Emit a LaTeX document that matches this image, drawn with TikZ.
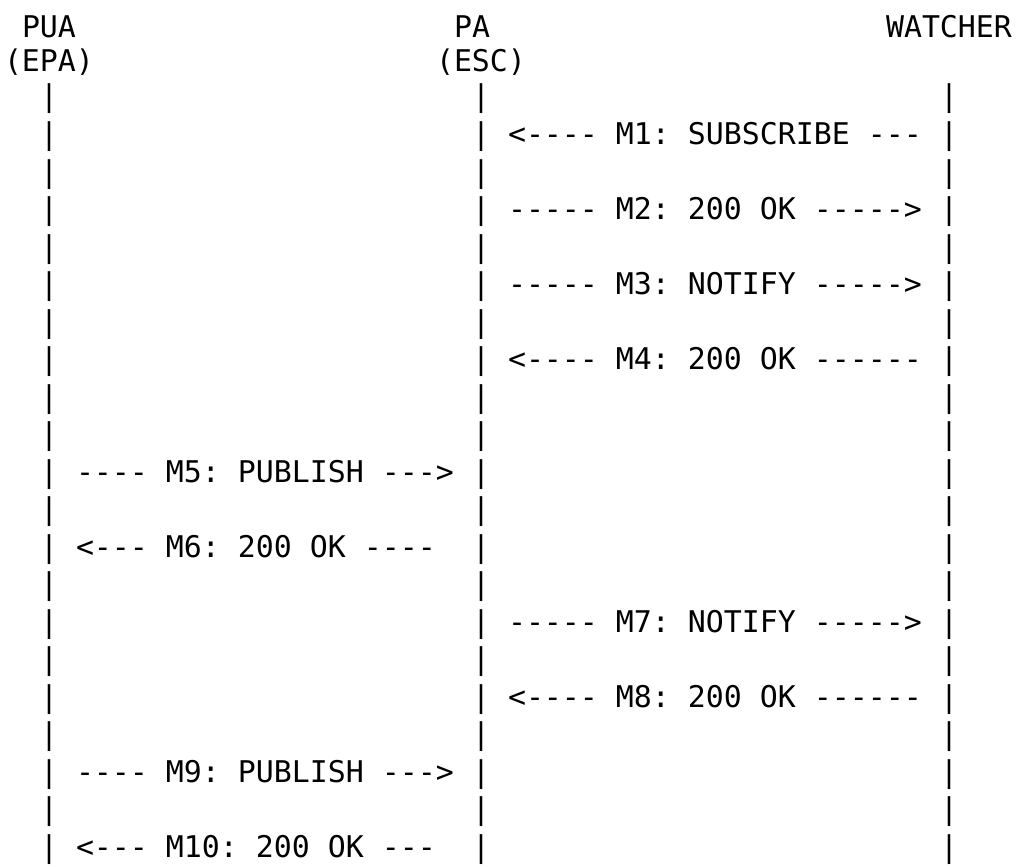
\documentclass[tikz,border=0pt]{standalone}
\usepackage{fontspec}
\setmonofont[WordSpace={1,0,0}]{DejaVu Sans Mono}
\begin{document}
\begin{tikzpicture}[x=0.75pt, y=-0.75pt,
  ascii/.style={inner sep=0pt, outer sep=0pt, anchor=base west,
    font=\fontsize{22.42pt}{28pt}\selectfont\ttfamily, text=black}]
  % page frame: 1017 x 867 px, one text cell is 18 px wide, one line 37.5 px high
  \useasboundingbox (0,0) rectangle (1017,867);
  % \cellat{name}{column}{baseline in px}{text}
  \newcommand\cellat[4]{\node[ascii] (#1) at ({4+18*#2},{#3}) {#4};}
  % \rowat{name}{column}{line}{text} for the body lines
  \newcommand\rowat[4]{\cellat{#1}{#2}{32+37.5*(#3-1)}{#4}}

  % participants
  \cellat{pua}{1}{38}{PUA}
  \cellat{pa}{25}{38}{PA}
  \cellat{watcher}{49}{38}{WATCHER}
  \cellat{epa}{0}{72}{(EPA)}
  \cellat{esc}{24}{72}{(ESC)}

  % lifelines
  \foreach \r in {3,...,23} {
    \rowat{pualine\r}{2}{\r}{|}
    \rowat{paline\r}{26}{\r}{|}
    \rowat{watcherline\r}{52}{\r}{|}
  }

  % messages
  \rowat{m1}{28}{4}{<---- M1: SUBSCRIBE ---}
  \rowat{m2}{28}{6}{----- M2: 200 OK ----->}
  \rowat{m3}{28}{8}{----- M3: NOTIFY ----->}
  \rowat{m4}{28}{10}{<---- M4: 200 OK ------}
  \rowat{m5}{4}{13}{---- M5: PUBLISH --->}
  \rowat{m6}{4}{15}{<--- M6: 200 OK ----}
  \rowat{m7}{28}{17}{----- M7: NOTIFY ----->}
  \rowat{m8}{28}{19}{<---- M8: 200 OK ------}
  \rowat{m9}{4}{21}{---- M9: PUBLISH --->}
  \rowat{m10}{4}{23}{<--- M10: 200 OK ---}
\end{tikzpicture}
\end{document}
